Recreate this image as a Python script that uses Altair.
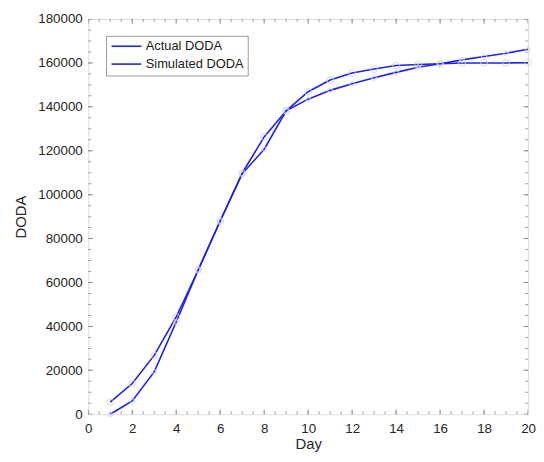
import altair as alt
import pandas as pd

days = list(range(1, 21))
actual = [0, 6100, 19300, 42000, 65700, 88000, 109500, 120700, 138200, 143500,
          147500, 150500, 153200, 155700, 158000, 159600, 161400, 162900, 164400, 166200]
simulated = [5500, 14000, 26800, 44300, 65700, 88000, 109800, 126300, 138200, 146900,
             152200, 155400, 157200, 158800, 159300, 159600, 160000, 160000, 160000, 160100]
series_names = ["Actual DODA", "Simulated DODA"]

x_major = list(range(0, 21, 2))
x_minor = [i * 0.5 for i in range(0, 41)]
y_major = list(range(0, 180001, 20000))
y_minor = list(range(0, 180001, 5000))

rows = []
for d, a, s in zip(days, actual, simulated):
    rows.append({"day": d, "value": a, "series": series_names[0]})
    rows.append({"day": d, "value": s, "series": series_names[1]})
df = pd.DataFrame(rows)

FONT = "Liberation Sans"
BLUE = "#1f1ff0"
TICK = "#7a7a7a"
xs = alt.Scale(domain=[0, 20], nice=False, zero=False)
ys = alt.Scale(domain=[0, 180000], nice=False)

AX = alt.Axis(values=x_major, ticks=False, domain=False, grid=False, format="d", labelFlush=False,
              labelPadding=7, labelFontSize=13.5, labelColor="#262626",
              labelFont=FONT, title="Day", titleFont=FONT, titleFontSize=15,
              titleFontWeight="normal", titleColor="#262626", titlePadding=2)
AY = alt.Axis(values=y_major, ticks=False, domain=False, grid=False, format="d", labelFlush=False,
              labelPadding=6, labelFontSize=13.5, labelColor="#262626",
              labelFont=FONT, title="DODA", titleFont=FONT, titleFontSize=15,
              titleFontWeight="normal", titleColor="#262626", titlePadding=9)

lines = alt.Chart(df).mark_line(strokeWidth=1.6, clip=True).encode(
    x=alt.X("day:Q", scale=xs, axis=AX),
    y=alt.Y("value:Q", scale=ys, axis=AY),
    color=alt.Color("series:N", scale=alt.Scale(domain=series_names, range=[BLUE, BLUE]),
                    legend=alt.Legend(title=None, orient="none", legendX=18, legendY=17,
                                      symbolType="M-1,0H5", symbolStrokeWidth=1.6, symbolSize=100,
                                      labelFont=FONT, labelFontSize=13, labelColor="#1a1a1a",
                                      strokeColor="#9a9a9a", fillColor="white", padding=4,
                                      rowPadding=4, labelOffset=23)),
    detail="series:N",
)

sim_pts = alt.Chart(df[df.series == series_names[1]]).mark_point(
    shape="circle", filled=False, size=45, color="#d2d2f2", strokeWidth=1, opacity=0.9
).encode(x=alt.X("day:Q", scale=xs, axis=AX), y=alt.Y("value:Q", scale=ys, axis=AY))

act_pts = alt.Chart(df[df.series == series_names[0]]).mark_point(
    shape="cross", filled=False, size=25, color="#d2d2f2", strokeWidth=1, opacity=0.8
).encode(x=alt.X("day:Q", scale=xs, axis=AX), y=alt.Y("value:Q", scale=ys, axis=AY))


def xticks(vals, at, L):
    d = pd.DataFrame({"day": vals})
    return alt.Chart(d).mark_tick(orient="vertical", size=2 * L, thickness=1, color=TICK, clip=True).encode(
        x=alt.X("day:Q", scale=xs, axis=AX),
        y=alt.datum(at, scale=ys),
    )


def yticks(vals, at, L):
    d = pd.DataFrame({"value": vals})
    return alt.Chart(d).mark_tick(orient="horizontal", size=2 * L, thickness=1, color=TICK, clip=True).encode(
        y=alt.Y("value:Q", scale=ys, axis=AY),
        x=alt.datum(at, scale=xs),
    )


ticks = [
    xticks(x_major, 0, 5), xticks(x_minor, 0, 3),
    xticks(x_major, 180000, 5), xticks(x_minor, 180000, 3),
    yticks(y_major, 0, 5), yticks(y_minor, 0, 3),
    yticks(y_major, 20, 5), yticks(y_minor, 20, 3),
]

chart = alt.layer(*ticks, lines, sim_pts, act_pts).properties(
    width=444, height=399,
    autosize=alt.AutoSizeParams(type="none"),
    padding={"left": 81, "top": 9, "right": 8, "bottom": 38},
).configure_view(stroke="#8a8a8a", strokeWidth=1).configure(background="white")

chart.save("out.html", embed_options={"renderer": "svg", "actions": False})
